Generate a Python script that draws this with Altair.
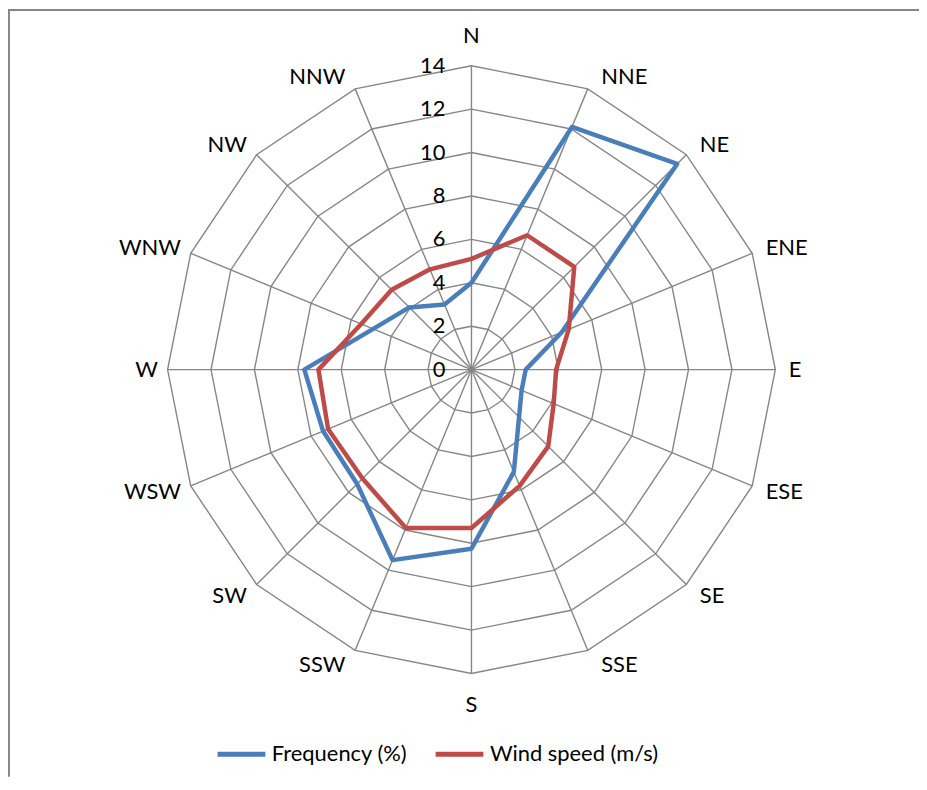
import altair as alt
import pandas as pd

# ---- data ----
directions = ["N", "NNE", "NE", "ENE", "E", "ESE", "SE", "SSE",
              "S", "SSW", "SW", "WSW", "W", "WNW", "NW", "NNW"]
frequency = [4.0, 12.1, 13.4, 4.5, 2.5, 2.5, 3.1, 5.1,
             8.25, 9.5, 7.45, 7.4, 7.7, 4.9, 4.05, 3.25]
wind_speed = [5.1, 6.7, 6.7, 4.85, 3.9, 4.1, 5.0, 5.8,
              7.3, 7.9, 7.1, 7.15, 7.05, 5.5, 5.2, 5.0]
ring_values = [0, 2, 4, 6, 8, 10, 12, 14]
series_names = ["Frequency (%)", "Wind speed (m/s)"]

# ---- styling / layout ----
BLUE = "#4A7EBB"
RED = "#BE4B48"
GRID = "#868686"
FONT = "Lato"
FS = 22
PX = 21.8           # pixels per data unit
CX, CY = 465.5, 361.5  # centre of the rose inside the view
W, H = 915, 770
xdom = [-CX / PX, (W - CX) / PX]
ydom = [-(H - CY) / PX, CY / PX]
RMAX = max(ring_values)
n = len(directions)

rows = []
for name, vals in zip(series_names, [frequency, wind_speed]):
    for k in range(n + 1):
        rows.append({"series": name, "idx": k, "dir": directions[k % n], "value": vals[k % n]})
series_df = pd.DataFrame(rows)
ring_df = pd.DataFrame([{"ring": r, "idx": k} for r in ring_values[1:] for k in range(n + 1)])
spoke_df = pd.DataFrame({"dir": directions, "idx": list(range(n))})
tick_df = pd.DataFrame({"label": [str(v) for v in ring_values], "value": ring_values})

xs = alt.Scale(domain=xdom, nice=False, zero=False)
ys = alt.Scale(domain=ydom, nice=False, zero=False)
ANG = "datum.idx * PI / 8"

rings = alt.Chart(ring_df).transform_calculate(
    x=f"datum.ring * sin({ANG})", y=f"datum.ring * cos({ANG})"
).mark_line(stroke=GRID, strokeWidth=1.4).encode(
    x=alt.X("x:Q", scale=xs, axis=None),
    y=alt.Y("y:Q", scale=ys, axis=None),
    detail="ring:N", order="idx:Q",
)

spokes = alt.Chart(spoke_df).transform_calculate(
    x0="0", y0="0",
    x1=f"{RMAX} * sin({ANG})", y1=f"{RMAX} * cos({ANG})"
).mark_rule(stroke=GRID, strokeWidth=1.4).encode(
    x=alt.X("x0:Q", scale=xs, axis=None),
    y=alt.Y("y0:Q", scale=ys, axis=None),
    x2="x1:Q", y2="y1:Q",
)

lines = alt.Chart(series_df).transform_calculate(
    x=f"datum.value * sin({ANG})", y=f"datum.value * cos({ANG})"
).mark_line(strokeWidth=4.5, strokeJoin="round", strokeCap="round").encode(
    x=alt.X("x:Q", scale=xs, axis=None),
    y=alt.Y("y:Q", scale=ys, axis=None),
    order="idx:Q",
    color=alt.Color(
        "series:N",
        scale=alt.Scale(domain=series_names, range=[BLUE, RED]),
        legend=alt.Legend(
            title=None, orient="none", legendX=208, legendY=721,
            direction="horizontal", symbolType="stroke", symbolStrokeWidth=5,
            symbolSize=2304, labelFontSize=FS, labelFont=FONT, labelColor="black",
            labelLimit=400, columnPadding=17, labelOffset=4, padding=0,
        ),
    ),
)

lab_base = alt.Chart(spoke_df).transform_calculate(
    s=f"sin({ANG})", c=f"cos({ANG})"
)
VOFF = "(datum.c > 0 ? 0.6 : 0.75)"
right_labels = lab_base.transform_filter("datum.s > 0.01").transform_calculate(
    lx=f"{RMAX} * datum.s + 0.62", ly=f"({RMAX} + {VOFF}) * datum.c"
).mark_text(align="left", baseline="middle", font=FONT, fontSize=FS, color="black").encode(
    x=alt.X("lx:Q", scale=xs, axis=None), y=alt.Y("ly:Q", scale=ys, axis=None), text="dir:N"
)
left_labels = lab_base.transform_filter("datum.s < -0.01").transform_calculate(
    lx=f"{RMAX} * datum.s - 0.45", ly=f"({RMAX} + {VOFF}) * datum.c"
).mark_text(align="right", baseline="middle", font=FONT, fontSize=FS, color="black").encode(
    x=alt.X("lx:Q", scale=xs, axis=None), y=alt.Y("ly:Q", scale=ys, axis=None), text="dir:N"
)
center_labels = lab_base.transform_filter("abs(datum.s) <= 0.01").transform_calculate(
    lx="0", ly=f"datum.c > 0 ? ({RMAX} + 1.36) : -({RMAX} + 1.45)"
).mark_text(align="center", baseline="middle", font=FONT, fontSize=FS, color="black").encode(
    x=alt.X("lx:Q", scale=xs, axis=None), y=alt.Y("ly:Q", scale=ys, axis=None), text="dir:N"
)

ticks = alt.Chart(tick_df).transform_calculate(tx="-1.2").mark_text(
    align="right", baseline="middle", font=FONT, fontSize=FS, color="black"
).encode(
    x=alt.X("tx:Q", scale=xs, axis=None), y=alt.Y("value:Q", scale=ys, axis=None), text="label:N"
)

border_left = alt.Chart(tick_df).mark_rule(stroke=GRID, strokeWidth=1.6).encode(
    x=alt.value(0.5), y=alt.value(0), y2=alt.value(H)
)
border_top = alt.Chart(tick_df).mark_rule(stroke=GRID, strokeWidth=1.6).encode(
    x=alt.value(0), x2=alt.value(W), y=alt.value(0.5)
)

chart = alt.layer(
    border_left, border_top, rings, spokes, lines,
    right_labels, left_labels, center_labels, ticks
).properties(
    width=W, height=H, padding=0, autosize=alt.AutoSizeParams(type="none")
).configure_view(stroke=None)

chart.save("out.html", embed_options={"renderer": "svg", "actions": False})
